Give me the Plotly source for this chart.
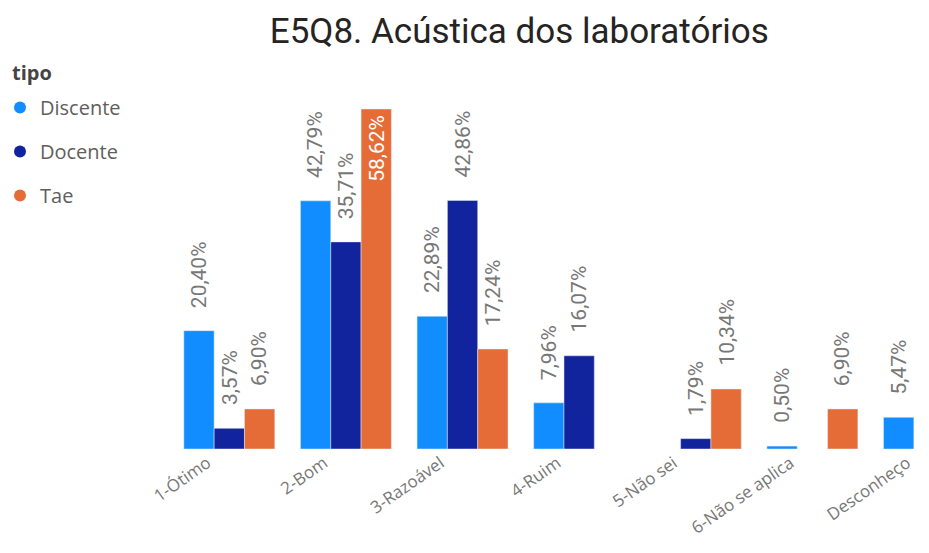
import plotly.graph_objects as go

categories = ["1-Ótimo", "2-Bom", "3-Razoável", "4-Ruim", "5-Não sei", "6-Não se aplica", "Desconheço"]
discente = [20.40, 42.79, 22.89, 7.96, None, 0.50, 5.47]
docente = [3.57, 35.71, 42.86, 16.07, 1.79, None, None]
tae = [6.90, 58.62, 17.24, None, 10.34, 6.90, None]

series = [
    ("Discente", discente, "#118DFF"),
    ("Docente", docente, "#12239E"),
    ("Tae", tae, "#E66C37"),
]

LABEL_FONT = "Roboto, sans-serif"
UI_FONT = "Segoe UI, Open Sans, Noto Sans, sans-serif"

W, H = 929, 553
ML, MR, MT, MB = 171, 0, 101, 104
XR = [-0.5, 6.0]
BARGAP = 0.22
ymax = 60


def fmt(v):
    return f"{v:.2f}%".replace(".", ",")


fig = go.Figure()
for name, vals, color in series:
    fig.add_trace(go.Bar(
        name=name, x=categories, y=vals, marker_color=color,
        showlegend=False, hoverinfo="skip",
    ))
    fig.add_trace(go.Scatter(
        x=[None], y=[None], mode="markers", name=name,
        marker=dict(symbol="circle", size=15, color=color),
        legendgroup=name, showlegend=True,
    ))

# data labels (rotated), offset within each group
plot_w = W - ML - MR
step_px = plot_w / (XR[1] - XR[0])
bar_px = step_px * (1 - BARGAP) / len(series)
annotations = []
for i, (name, vals, color) in enumerate(series):
    dx = (i - (len(series) - 1) / 2) * bar_px
    for cat, v in zip(categories, vals):
        if v is None:
            continue
        inside = v > ymax * 0.9
        annotations.append(dict(
            x=cat, y=v, xref="x", yref="y", text=fmt(v), showarrow=False,
            textangle=-90, xshift=dx, yshift=-4 if inside else 21,
            yanchor="top" if inside else "bottom", xanchor="center",
            font=dict(family=LABEL_FONT, size=21,
                      color="#FFFFFF" if inside else "#777777"),
        ))

# legend title as a separate text so spacing can follow the reference
annotations.append(dict(
    text="<b>tipo</b>", xref="paper", yref="paper",
    x=(10 - ML) / plot_w, y=(H - MB - 72) / (H - MT - MB),
    xanchor="left", yanchor="middle", showarrow=False,
    font=dict(family=UI_FONT, size=20, color="#444444"),
))

fig.update_layout(
    width=W, height=H,
    margin=dict(l=ML, r=MR, t=MT, b=MB),
    paper_bgcolor="white", plot_bgcolor="white",
    barmode="group", bargap=BARGAP, bargroupgap=0,
    annotations=annotations,
    title=dict(text="E5Q8. Acústica dos laboratórios", xref="container", x=0.559,
               xanchor="center", yref="container", y=0.945, yanchor="middle",
               font=dict(family=LABEL_FONT, size=35, color="#252423")),
    legend=dict(xref="container", yref="container", x=0.0, y=1 - 88 / H,
                xanchor="left", yanchor="top",
                font=dict(family=UI_FONT, size=20, color="#605E5C"),
                tracegroupgap=15, itemwidth=30, itemsizing="constant",
                bgcolor="rgba(0,0,0,0)"),
    xaxis=dict(range=XR, tickangle=-35, showgrid=False, showline=False, zeroline=False,
               tickfont=dict(family=UI_FONT, size=17, color="#777777"), ticks="",
               ticklabelshift=-22),
    yaxis=dict(range=[0, ymax], visible=False, showgrid=False, zeroline=False),
)

fig.write_html("out.html", config={"displayModeBar": False},
               post_script="document.body.style.margin='0';")
